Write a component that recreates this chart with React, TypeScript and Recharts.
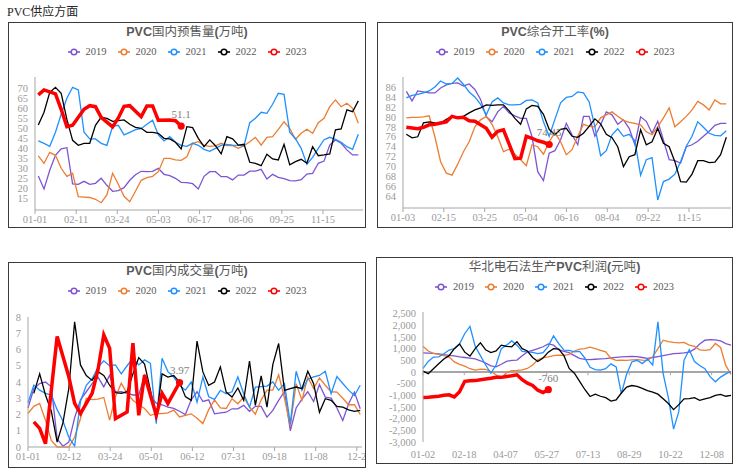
import React from "react";
import { LineChart, Line, XAxis, YAxis, ReferenceLine } from "recharts";

const YEARS = ["2019", "2020", "2021", "2022", "2023"];
const COLORS = ["#7d55d4", "#ed7d31", "#1e90ff", "#000000", "#ff0000"];

const SERIF = '"Liberation Serif", "DejaVu Serif", serif';
const CJK = '"Liberation Sans", "Noto Sans CJK SC", sans-serif';
const AXIS = "#a6a6a6";
const TICK = "#9a9a9a";

// PVC国内预售量(万吨) - weekly
const presaleLabels = ["01-01", "02-11", "03-24", "05-03", "06-17", "08-06", "09-25", "11-15"];
const presale2019 = [26.2, 19.7, 29, 36.5, 39.7, 40.3, 22.2, 22, 23.5, 22, 22.5, 25, 21.5, 18.5, 18.8, 20.3, 24, 26.8, 28.5, 28.3, 28.5, 30, 27, 26.3, 25, 23, 22.8, 22.3, 19.7, 26, 28.3, 28.3, 25.8, 25.8, 24.2, 26.6, 26.6, 28.6, 28.6, 29.5, 24.6, 27, 25.5, 24.8, 23.8, 23.7, 24.3, 27.1, 27.5, 32.5, 33.6, 41.6, 44.2, 42.5, 39.2, 36.7, 36.7];
const presale2020 = [36.2, 32.5, 38, 36.5, 30, 26, 27.5, 15.8, 15.6, 15.4, 14.5, 12.8, 16.7, 27.5, 22, 16, 13.3, 18.5, 24, 25.3, 26, 28.3, 35, 35, 34.2, 34, 35.8, 42.5, 43.3, 41.5, 41, 41.2, 42.5, 41.3, 41.3, 40, 41.3, 43.3, 45.5, 41.6, 45.5, 45.8, 49.5, 53.3, 50, 44.5, 47.5, 49.5, 47.5, 52.8, 55, 60.8, 64.2, 60.8, 62.5, 60, 52.5];
const presale2021 = [43.7, 42.5, 41, 48, 57, 65, 70.5, 69.2, 48, 44.7, 44.7, 42.5, 41.5, 51, 51.5, 46.7, 48, 49.3, 49.8, 52, 54, 46.7, 43.7, 45.8, 43, 41.5, 41, 42.5, 41.5, 39.5, 38.5, 40, 41.5, 42, 41.6, 41.5, 41.3, 52.8, 55, 58, 57.5, 62, 67.5, 67, 48, 44.8, 40, 32, 35.5, 40, 44.3, 45.5, 44.5, 43, 40.8, 39.5, 47];
const presale2022 = [51.7, 58, 68, 70.5, 67.5, 54.5, 44, 41.5, 42.5, 42.5, 51.5, 55.5, 55, 53.5, 53.8, 54.2, 52, 50.5, 50, 48, 48, 47.5, 45, 44.7, 43, 39.7, 50.8, 50.3, 45, 40.8, 44.2, 41.3, 37.2, 45.8, 44.7, 41.6, 42, 33, 32.5, 31.3, 37, 34.7, 34.2, 42, 31.7, 33.3, 34.5, 32.5, 40.8, 36.3, 36.7, 37.2, 49.2, 49.7, 59.2, 58.3, 63.7];
const presale2023 = [66.7, 69.2, null, 67.2, 59.5, 50.8, 51.5, null, 59.5, 61.3, 60.8, 55.5, null, 50.7, 55.2, 61, 61.3, null, 55.8, 61.2, 61.2, 54, null, 54.2, 53.8, 51.1];

// PVC综合开工率(%) - weekly
const rateLabels = ["01-03", "02-15", "03-25", "05-04", "06-16", "08-04", "09-22", "11-15"];
const rate2019 = [85.1, 83.2, 85.2, 85, 84.8, 84.8, 85.8, 86.4, 86.7, 86.8, 86.2, 86.6, 85.5, 83.5, 80, 79, 81, 82.1, 80.8, 80.2, 79.7, 79.7, 76, 69, 67.2, 72.7, 73.2, 75.4, 78.7, 76.4, 74.4, 80.1, 80.1, 76.1, 78.4, 81, 80.4, 78.5, 79.4, 77.7, 74.4, 80, 79.1, 76.7, 79.1, 75.3, 71.4, 71.2, 70.7, 74, 74.4, 75.1, 76.1, 77.1, 78.3, 78.7, 78.7];
const rate2020 = [79.8, 79.9, 79.9, 80, 80.2, 76, 71, 68.7, 68.3, 70.5, 73, 75, 78, 79.4, 80.1, 78.5, 76, 73, 73.5, 72.5, 71.4, 70.2, 74.4, 74, 72.5, 75, 76.8, 75, 72.4, 73.4, 76.1, 78.5, 78.1, 78, 79.8, 80.4, 81, 80.1, 79.3, 78.9, 78.7, 78.4, 77, 76.4, 78, 79.8, 81.8, 78, 79, 80.1, 81.4, 83.1, 82.4, 81.4, 83.4, 82.6, 82.6];
const rate2021 = [83.8, 84.3, 84.5, 84.8, 85.2, 86, 87.2, 86.6, 86.7, 87.8, 86.5, 85, 84, 82.5, 80.4, 83, 83.8, 82.8, 82.4, 82.4, 82.5, 83.3, 83.4, 82.8, 79, 76.1, 79.5, 82.8, 83.9, 84.1, 85, 84.8, 83, 78, 72.2, 73.2, 76.4, 77.6, 76.1, 76.5, 75.2, 68.3, 71.4, 71.8, 63.3, 67, 67.5, 68.5, 71, 74.1, 76.1, 79, 77.9, 76.7, 76.3, 76.2, 77.2];
const rate2022 = [76.5, 75.8, 76, 78.8, 79, 78.8, 78.7, 79.5, 80.1, 80, 80.1, 80.8, 81.4, 81.8, 82.4, 82.3, 82.4, 82.4, 81.2, 79.7, 78.5, 81.6, 82.3, 82.1, 80.5, 77.5, 76.4, 77.5, 77.7, 76.1, 75.9, 76.7, 78.1, 79.6, 78.6, 76.5, 75.8, 74, 70, 72, 72.4, 77.4, 74.4, 75, 77.7, 74.7, 74, 71, 67, 66.9, 68.5, 71.2, 71.2, 70.8, 70.9, 72.4, 75.9];
const rate2023 = [77.9, null, 77.6, 77.9, 78.4, 78.5, null, 79, 80.1, 79.8, 79.9, 79.2, 79.1, null, 77.7, 75.9, 77.1, 77.4, null, 71.6, 71.7, 76.1, 75.7, 75.2, 74.9, 74.45];

// PVC国内成交量(万吨) - weekly
const dealLabels = ["01-01", "02-12", "03-24", "05-01", "06-12", "07-31", "09-18", "11-08", "12-2"];
const deal2019 = [2.4, 3.6, 3.9, 4.0, 3.7, 0.5, 0.05, 0.3, 1.8, 2.9, 3.4, 3.9, 4.3, 3.7, 4.4, 3.4, 3.4, 3.3, 3.2, 3.2, 4.4, 3.1, 2.7, 2.6, 2.45, 2.37, 2.2, 2.0, 2.9, 3.4, 2.8, 2.9, 2.04, 2.1, 2.14, 2.35, 2.35, 2.56, 2.2, 2.5, 2.5, 1.84, 2.25, 2.87, 3.42, 1.0, 2.4, 2.95, 3.4, 2.8, 3.84, 3.07, 3.01, 2.4, 1.63, 2.66, 3.38, 2.35];
const deal2020 = [2.06, 2.5, 2.68, 1.65, 0.4, 0, 0, 0, 0.6, 1.75, 3.0, 2.92, 2.95, 3.05, 1.65, 3.09, 3.92, 3.3, 2.88, 2.6, 2.37, 1.95, 2.06, 2.06, 2.1, 2.27, 1.85, 1.95, 2.04, 1.77, 1.44, 2.3, 2.9, 2.4, 2.37, 2.97, 2.66, 3.07, 2.47, 2.02, 2.9, 3.5, 3.5, 4.45, 3.0, 1.3, 3.9, 2.88, 4.3, 3.6, 4.25, 3.8, 3.4, 3.38, 3.0, 2.6, 2.6, 2.0];
const deal2021 = [2.72, 3.81, 3.5, 3.3, 3.2, 2.3, 1.6, 0.6, 0.05, 2.8, 3.8, 4.2, 4.9, 5.3, 5.0, 5.05, 4.5, 5.0, 5.46, 5.05, 5.36, 5.15, 1.44, 5.46, 4.64, 4.3, 3.8, 3.5, 4.0, 2.76, 4.31, 3.09, 2.93, 3.49, 3.28, 3.4, 4.31, 3.28, 2.45, 3.69, 3.72, 3.75, 4.0, 3.49, 3.9, 1.42, 4.66, 3.49, 4.17, 4.31, 4.4, 4.66, 3.28, 4.33, 3.91, 3.5, 3.17, 3.8];
const deal2022 = [null, 3.3, 4.5, 3.2, 2.2, 0.3, 1.5, 3.6, 7.7, 5.05, 4.4, 4.1, 4.64, 4.4, 3.8, 3.35, 3.3, 3.4, 4.5, 5.5, 5.1, 3.5, 1.75, 4.5, 4.3, 4.4, 4.0, 3.1, 2.87, 6.52, 4.62, 3.79, 4.0, 4.93, 3.38, 3.07, 3.63, 2.87, 5.28, 2.56, 4.37, 2.45, 5.07, 6.37, 3.48, 3.59, 3.69, 3.59, 4.66, 3.9, 2.14, 2.97, 2.87, 2.5, 2.45, 2.29, 2.19, 2.25];
const deal2023 = [null, 1.55, 1.15, 0.2, null, 6.8, null, 4.33, 2.68, 2.06, null, 3.3, 4.74, 6.9, 6.08, 1.75, null, 2.16, 6.39, 1.95, 4.43, null, 1.95, 3.3, 2.68, null, 3.97];

// 华北电石法生产PVC利润(元吨)
const profitLabels = ["01-02", "02-18", "04-07", "05-27", "07-13", "08-29", "10-22", "12-08"];
const profit2019 = [815, 810, 800, 780, 740, 715, 690, 650, 620, 590, 560, 480, 380, 260, 220, 330, 450, 500, 510, 700, 860, 930, 1000, 1080, 1200, 1150, 960, 880, 830, 700, 580, 540, 530, 545, 560, 570, 600, 630, 643, 660, 672, 660, 620, 580, 620, 660, 700, 740, 786, 800, 815, 850, 980, 1200, 1360, 1386, 1380, 1330, 1215, 1150];
const profit2020 = [1100, 900, 800, 760, 700, 640, 430, 330, 250, 140, 80, 120, 110, 20, -120, -250, -30, 60, 70, 90, 150, 300, 520, 620, 650, 700, 720, 710, 750, 900, 980, 1000, 1060, 1000, 930, 860, 580, 500, 510, 500, 520, 530, 510, 500, 650, 1000, 1360, 1300, 1270, 1250, 1270, 1150, 1100, 950, 930, 960, 1220, 1050, 280, -100];
const profit2021 = [150, 450, 640, 650, 780, 940, 1000, 1200, 1650, 1950, 1100, 700, 300, -60, 300, 1000, 1150, 1330, 1150, 880, 860, 840, 790, 830, 1100, 1550, 1215, 940, 930, 858, 880, 600, 200, 100, 80, 140, 350, 220, -929, -100, 430, 500, 360, 550, 300, 2150, -70, -1100, -2450, -1700, 500, 950, 450, 280, 140, -200, -420, -220, -80, 20];
const profit2022 = [40, -70, 140, 350, 560, 700, 1000, 1200, 850, 680, 1000, 1250, 950, 830, 900, 1150, 1100, 1080, 1300, 1000, 900, 620, 450, 600, 850, 1000, 980, 700, 150, -50, -400, -750, -1050, -950, -1040, -1100, -1250, -1200, -900, -650, -580, -620, -700, -800, -860, -950, -1150, -1350, -1615, -1400, -1150, -1140, -1100, -1215, -1150, -1100, -1000, -960, -1040, -1000];
const profit2023 = [-1090, -1080, -1060, -1040, -1000, -980, -1070, -850, -400, -380, -370, -330, -300, -270, -230, -230, -190, -160, -120, -330, -480, -580, -780, -880, -760];

type Val = number | null;
type Row = { [k: string]: Val | undefined };

function buildRows(series: Val[][]): Row[] {
  const n = Math.max(...series.map((s) => s.length));
  const rows: Row[] = [];
  for (let i = 0; i < n; i++) {
    const row: Row = { i };
    series.forEach((s, k) => {
      if (i < s.length) row[YEARS[k]] = s[i];
    });
    rows.push(row);
  }
  return rows;
}

function range(from: number, to: number, step: number) {
  const out: number[] = [];
  for (let v = from; v <= to + 1e-9; v += step) out.push(v);
  return out;
}

function Legend({ cy }: { cy: number }) {
  return (
    <div
      style={{
        position: "absolute",
        left: 0,
        right: 0,
        top: cy - 7,
        height: 14,
        display: "flex",
        justifyContent: "center",
        alignItems: "center",
      }}
    >
      {YEARS.map((y, k) => (
        <div key={y} style={{ display: "flex", alignItems: "center", marginRight: k < 4 ? 11 : 0 }}>
          <svg width={12} height={8}>
            <line x1={0} y1={4} x2={12} y2={4} stroke={COLORS[k]} strokeWidth={1.6} />
            <circle cx={6} cy={4} r={2.8} fill="#fff" stroke={COLORS[k]} strokeWidth={1.5} />
          </svg>
          <span style={{ marginLeft: 6, fontFamily: SERIF, fontSize: 10.5, color: "#595959", lineHeight: "14px" }}>
            {y}
          </span>
        </div>
      ))}
    </div>
  );
}

type PanelProps = {
  box: { x: number; y: number; w: number; h: number };
  title: React.ReactNode;
  titleY: number;
  legendY: number;
  series: Val[][];
  xDomain: [number, number];
  tickStart: number;
  tickStep: number;
  xLabels: string[];
  yDomain: [number, number];
  yTicks: number[];
  yFormat?: (v: number) => string;
  yWidth: number;
  xHeight: number;
  top: number;
  right: number;
  zeroAxis?: boolean;
};

function Panel(p: PanelProps) {
  const w = p.box.w - 2;
  const h = p.box.h - 2;
  const rows = buildRows(p.series);
  const red = p.series[4];
  const last = red.length - 1;
  const xTicks = p.xLabels.map((_, k) => p.tickStart + k * p.tickStep);

  return (
    <div
      style={{
        position: "absolute",
        left: p.box.x,
        top: p.box.y,
        width: w,
        height: h,
        border: "1px solid #3a3a3a",
        overflow: "hidden",
        background: "#fff",
      }}
    >
      <div
        style={{
          position: "absolute",
          left: 0,
          right: 0,
          top: p.titleY - 8,
          height: 16,
          lineHeight: "16px",
          textAlign: "center",
          fontFamily: CJK,
          fontSize: 12.5,
          color: "#595959",
        }}
      >
        {p.title}
      </div>
      <Legend cy={p.legendY} />
      <LineChart width={w} height={h} data={rows} margin={{ top: p.top, right: p.right, bottom: 0, left: 0 }}>
        <XAxis
          dataKey="i"
          type="number"
          domain={p.xDomain}
          ticks={xTicks}
          interval={0}
          tickFormatter={(_v: number, idx: number) => p.xLabels[idx]}
          height={p.xHeight}
          axisLine={p.zeroAxis ? false : { stroke: AXIS }}
          tickLine={p.zeroAxis ? false : { stroke: AXIS }}
          tickSize={4}
          tickMargin={p.zeroAxis ? 5 : 2}
          tick={{ fill: TICK, fontSize: 10.5, fontFamily: SERIF }}
        />
        <YAxis
          yAxisId="l"
          type="number"
          domain={p.yDomain}
          ticks={p.yTicks}
          interval={0}
          width={p.yWidth}
          axisLine={{ stroke: AXIS }}
          tickLine={false}
          tickSize={5}
          tickMargin={2}
          tickFormatter={p.yFormat}
          tick={{ fill: TICK, fontSize: 10.5, fontFamily: SERIF }}
        />
        <YAxis
          yAxisId="r"
          orientation="right"
          type="number"
          domain={p.yDomain}
          width={0}
          tick={false}
          tickLine={false}
          axisLine={{ stroke: "#b0b0b0", strokeWidth: 2 }}
        />
        {p.zeroAxis && <ReferenceLine yAxisId="l" y={0} stroke={AXIS} strokeWidth={1.8} />}
        {p.zeroAxis &&
          xTicks.map((t) => (
            <ReferenceLine
              key={t}
              yAxisId="l"
              segment={[
                { x: t, y: 0 },
                { x: t, y: -140 },
              ]}
              stroke={AXIS}
              strokeWidth={1}
            />
          ))}
        {YEARS.map((y, k) => {
          const isRed = k === 4;
          return (
            <Line
              key={y}
              yAxisId="l"
              type="linear"
              dataKey={y}
              stroke={COLORS[k]}
              strokeWidth={isRed ? 3.5 : 1.3}
              connectNulls={isRed}
              isAnimationActive={false}
              dot={
                isRed
                  ? (d: any) =>
                      d.index === last ? (
                        <circle key="end" cx={d.cx} cy={d.cy} r={3.6} fill={COLORS[4]} />
                      ) : (
                        <g key={d.index} />
                      )
                  : false
              }
              label={
                isRed
                  ? (d: any) =>
                      d.index === last ? (
                        <text
                          key="lbl"
                          x={d.x}
                          y={d.y - 8}
                          textAnchor="middle"
                          fill="#7f7f7f"
                          fontSize={11}
                          fontFamily={SERIF}
                        >
                          {String(d.value)}
                        </text>
                      ) : (
                        <g key={d.index} />
                      )
                  : false
              }
            />
          );
        })}
      </LineChart>
    </div>
  );
}

const fmtThousands = (v: number) => v.toLocaleString("en-US");

export default function App() {
  return (
    <div style={{ position: "absolute", left: 0, top: 0, width: 742, height: 472, background: "#fff" }}>
      <div
        style={{
          position: "absolute",
          left: 7,
          top: 5,
          fontFamily: '"Liberation Serif", "Noto Sans CJK SC", serif',
          fontSize: 12,
          lineHeight: "14px",
          color: "#262626",
        }}
      >
        PVC供应方面
      </div>

      <Panel
        box={{ x: 8, y: 22, w: 358, h: 206 }}
        title={
          <>
            <b>PVC</b>国内预售量<b>(</b>万吨<b>)</b>
          </>
        }
        titleY={8.7}
        legendY={28.7}
        series={[presale2019, presale2020, presale2021, presale2022, presale2023]}
        xDomain={[-0.58, 56.82]}
        tickStart={-0.58}
        tickStep={7.2}
        xLabels={presaleLabels}
        yDomain={[9.15, 75.65]}
        yTicks={range(15, 70, 5)}
        yWidth={26}
        xHeight={17}
        top={54}
        right={2}
      />

      <Panel
        box={{ x: 377, y: 22, w: 356, h: 206 }}
        title={
          <>
            <b>PVC</b>综合开工率<b>(%)</b>
          </>
        }
        titleY={8.7}
        legendY={28.7}
        series={[rate2019, rate2020, rate2021, rate2022, rate2023]}
        xDomain={[-0.58, 56.82]}
        tickStart={-0.58}
        tickStep={7.15}
        xLabels={rateLabels}
        yDomain={[61.7, 88]}
        yTicks={range(64, 86, 2)}
        yWidth={25}
        xHeight={19}
        top={54}
        right={1}
      />

      <Panel
        box={{ x: 8, y: 262, w: 358, h: 206 }}
        title={
          <>
            <b>PVC</b>国内成交量<b>(</b>万吨<b>)</b>
          </>
        }
        titleY={7.7}
        legendY={27.7}
        series={[deal2019, deal2020, deal2021, deal2022, deal2023]}
        xDomain={[0, 57.3]}
        tickStart={0}
        tickStep={7.05}
        xLabels={dealLabels}
        yDomain={[0, 8]}
        yTicks={range(0, 8, 1)}
        yWidth={19}
        xHeight={20}
        top={54}
        right={3}
      />

      <Panel
        box={{ x: 376, y: 257, w: 357, h: 207 }}
        title={
          <>
            华北电石法生产<b>PVC</b>利润<b>(</b>元吨<b>)</b>
          </>
        }
        titleY={8.7}
        legendY={28.7}
        series={[profit2019, profit2020, profit2021, profit2022, profit2023]}
        xDomain={[0, 59]}
        tickStart={0}
        tickStep={7.9}
        xLabels={profitLabels}
        yDomain={[-3000, 2570]}
        yTicks={range(-3000, 2500, 500)}
        yFormat={fmtThousands}
        yWidth={46}
        xHeight={21}
        top={54}
        right={1}
        zeroAxis
      />
    </div>
  );
}
